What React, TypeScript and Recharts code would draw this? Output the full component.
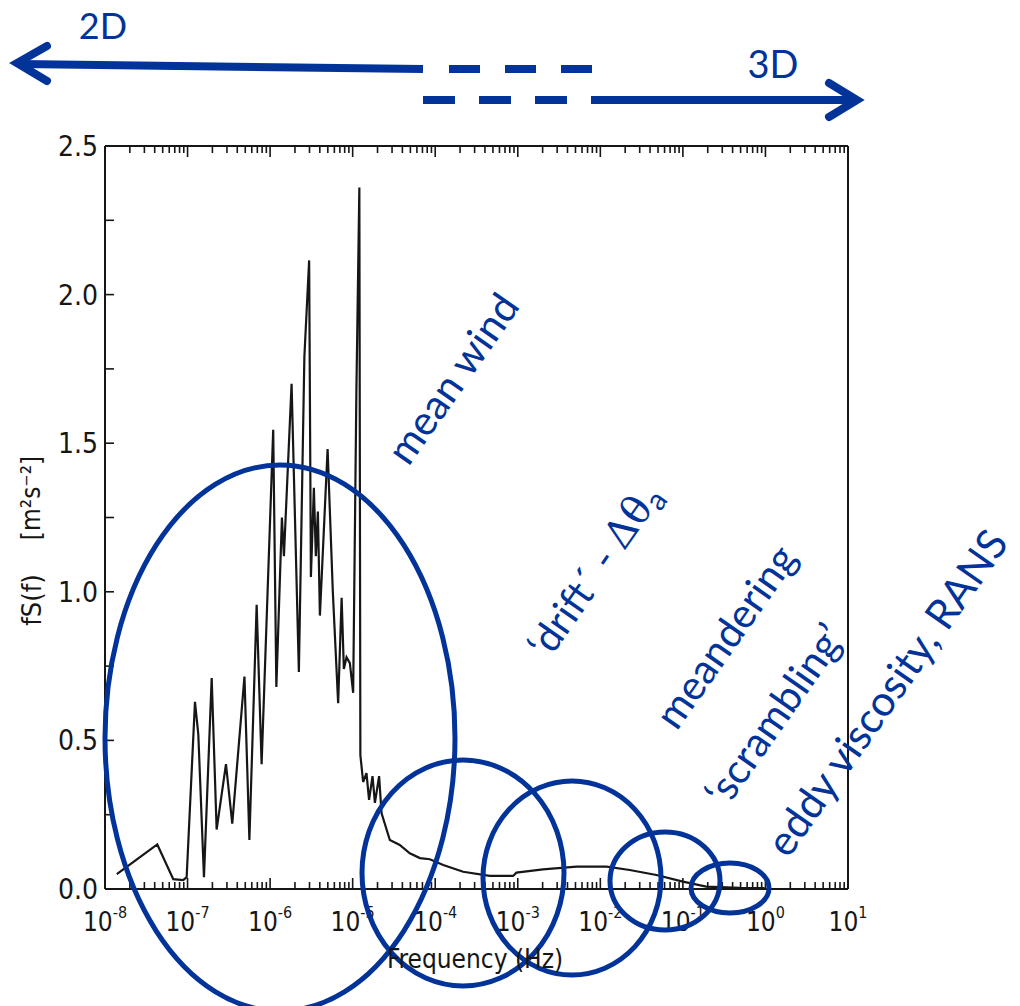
import React from "react";
import { LineChart, Line, XAxis, YAxis } from "recharts";

// frequency [Hz] and fS(f) [m2 s-2]
const freq = [
  1.39e-8, 4.3e-8, 6.71e-8, 8.87e-8, 9.75e-8, 1.23e-7, 1.35e-7, 1.58e-7, 1.96e-7, 2.25e-7,
  2.92e-7, 3.48e-7, 4.89e-7, 5.61e-7, 6.87e-7, 7.89e-7, 1.09e-6, 1.19e-6, 1.39e-6, 1.47e-6,
  1.82e-6, 2.23e-6, 2.6e-6, 2.97e-6, 3.12e-6, 3.39e-6, 3.58e-6, 3.79e-6, 4.01e-6, 4.97e-6,
  5.75e-6, 6.67e-6, 7.35e-6, 7.82e-6, 8.43e-6, 9.25e-6, 1.014e-5, 1.11e-5, 1.205e-5, 1.24e-5,
  1.34e-5, 1.47e-5, 1.58e-5, 1.74e-5, 1.86e-5, 2.09e-5, 2.24e-5, 2.82e-5, 3.72e-5, 4.92e-5,
  6.52e-5, 8.61e-5, 1.25e-4, 2.18e-4, 4.58e-4, 8.77e-4, 9.64e-4, 2.02e-3, 5.14e-3, 1.19e-2,
  2.27e-2, 4.78e-2, 0.1, 0.192, 0.488, 0.977,
];
const fs = [
  0.05, 0.15, 0.033, 0.03, 0.04, 0.63, 0.52, 0.04, 0.71, 0.2,
  0.42, 0.22, 0.715, 0.165, 0.956, 0.42, 1.545, 0.68, 1.25, 1.12,
  1.7, 0.73, 1.79, 2.115, 1.05, 1.35, 1.12, 1.27, 0.92, 1.48,
  1.0, 0.625, 0.98, 0.74, 0.78, 0.76, 0.66, 1.68, 2.36, 0.45,
  0.36, 0.39, 0.3, 0.38, 0.29, 0.38, 0.255, 0.165, 0.148, 0.12,
  0.104, 0.1, 0.081, 0.058, 0.044, 0.044, 0.055, 0.066, 0.075, 0.075,
  0.064, 0.047, 0.025, 0.008, 0.004, 0.003,
];

const decades = [-8, -7, -6, -5, -4, -3, -2, -1, 0];
const minorSteps = [1, 2, 3, 4, 5, 6, 7, 8, 9];
const yTicks = [0, 0.25, 0.5, 0.75, 1, 1.25, 1.5, 1.75, 2, 2.25, 2.5];

const xTicks = [...decades.flatMap((d) => minorSteps.map((k) => k * Math.pow(10, d))), 10];
const data = freq.map((f, i) => ({ f, s: fs[i] }));

const BLUE = "#023399";
const INK = "#161616";
const SCAN_FONT = "'DejaVu Sans Condensed', 'DejaVu Sans', sans-serif";
const NOTE_FONT = "Lato, 'Open Sans', sans-serif";

const isDecade = (v: number) => Math.abs(Math.log10(v) - Math.round(Math.log10(v))) < 1e-6;

const BottomTick = (props: any) => {
  const { x, y, payload } = props;
  const v = payload.value;
  const major = isDecade(v);
  const e = Math.round(Math.log10(v));
  return (
    <g>
      <line x1={x} x2={x} y1={y} y2={y - (major ? 11 : 7)} stroke={INK} strokeWidth={1.6} />
      {major && (
        <text x={x} y={y + 42} textAnchor="middle" fill={INK} fontFamily={SCAN_FONT} fontStretch="condensed" fontSize={26}>
          10
          <tspan dy={-13} fontSize={16}>{e}</tspan>
        </text>
      )}
    </g>
  );
};

const TopTick = (props: any) => {
  const { x, y, payload } = props;
  const major = isDecade(payload.value);
  return <line x1={x} x2={x} y1={y} y2={y + (major ? 11 : 7)} stroke={INK} strokeWidth={1.6} />;
};

const LeftTick = (props: any) => {
  const { x, y, payload } = props;
  const v = payload.value;
  const labelled = Math.abs(v * 2 - Math.round(v * 2)) < 1e-6;
  return (
    <g>
      <line x1={x} x2={x + 9} y1={y} y2={y} stroke={INK} strokeWidth={1.6} />
      {labelled && (
        <text x={x - 7} y={y} dy="0.36em" textAnchor="end" fill={INK} fontFamily={SCAN_FONT} fontStretch="condensed" fontSize={28}>
          {v.toFixed(1)}
        </text>
      )}
    </g>
  );
};

const RightTick = (props: any) => {
  const { x, y } = props;
  return <line x1={x} x2={x - 9} y1={y} y2={y} stroke={INK} strokeWidth={1.6} />;
};

function Notes() {
  const rot = -55;
  const note = (cx: number, cy: number, body: React.ReactNode, size = 40) => (
    <text
      x={cx}
      y={cy}
      transform={`rotate(${rot} ${cx} ${cy})`}
      textAnchor="middle"
      dominantBaseline="central"
      fill={BLUE}
      fontFamily={NOTE_FONT}
      fontSize={size}
    >
      {body}
    </text>
  );
  return (
    <svg width={1020} height={1006} style={{ position: "absolute", left: 0, top: 0, pointerEvents: "none" }}>
      {/* 2D / 3D arrows */}
      <text x={103} y={39} textAnchor="middle" fill={BLUE} fontFamily={NOTE_FONT} fontSize={36}>2D</text>
      <text x={773} y={78} textAnchor="middle" fill={BLUE} fontFamily={NOTE_FONT} fontSize={38}>3D</text>
      <line x1={20} y1={64} x2={423} y2={69} stroke={BLUE} strokeWidth={8} />
      <polyline points="47,46 17,63 47,81" fill="none" stroke={BLUE} strokeWidth={8} strokeLinecap="round" strokeLinejoin="miter" />
      <line x1={449} y1={69} x2={592} y2={69} stroke={BLUE} strokeWidth={8} strokeDasharray="31 25" />
      <line x1={423} y1={100} x2={567} y2={100} stroke={BLUE} strokeWidth={8} strokeDasharray="32 24" />
      <line x1={591} y1={100} x2={854} y2={100} stroke={BLUE} strokeWidth={8} />
      <polyline points="829,83 857,100 829,117" fill="none" stroke={BLUE} strokeWidth={8} strokeLinecap="round" />

      {/* scale regions */}
      <g fill="none" stroke={BLUE} strokeWidth={5}>
        <ellipse cx={280} cy={738} rx={175} ry={273} />
        <ellipse cx={463} cy={873} rx={101} ry={113} />
        <ellipse cx={572} cy={878} rx={89} ry={97} />
        <ellipse cx={665} cy={881} rx={55} ry={49} />
        <ellipse cx={730} cy={888} rx={39} ry={25} />
      </g>

      {note(452, 378, "mean wind", 41)}
      {note(594, 570, (
        <>
          ‘drift´ - <tspan fontFamily="'DejaVu Serif', 'Liberation Serif', serif">Δθ</tspan>
          <tspan dy={9} fontSize={30}>a</tspan>
        </>
      ))}
      {note(725, 636, "meandering", 41)}
      {note(774, 714, "‘scrambling’", 41)}
      {note(886, 692, "eddy viscosity, RANS", 42)}

      {/* axis titles */}
      <text x={475} y={968} textAnchor="middle" fill={INK} fontFamily={SCAN_FONT} fontStretch="condensed" fontSize={26}>
        Frequency  (Hz)
      </text>
      <text x={31} y={600} transform="rotate(-90 31 600)" textAnchor="middle" dominantBaseline="central" fill={INK} fontFamily={SCAN_FONT} fontStretch="condensed" fontSize={27}>
        fS(f)
      </text>
      <text x={31} y={498} transform="rotate(-90 31 498)" textAnchor="middle" dominantBaseline="central" fill={INK} fontFamily={SCAN_FONT} fontStretch="condensed" fontSize={26}>
        [m²s⁻²]
      </text>
    </svg>
  );
}

export default function App() {
  return (
    <div style={{ position: "absolute", left: 0, top: 0, width: 1020, height: 1006, background: "#fff" }}>
      <LineChart width={1020} height={1006} data={data} margin={{ top: 136, right: 162, bottom: 57, left: 0 }}>
        <XAxis
          xAxisId="b"
          dataKey="f"
          type="number"
          scale="log"
          domain={[1e-8, 10]}
          ticks={xTicks}
          interval={0}
          height={60}
          tickSize={0}
          tickMargin={0}
          tickLine={false}
          axisLine={{ stroke: INK, strokeWidth: 2 }}
          tick={<BottomTick />}
          allowDataOverflow
        />
        <XAxis
          xAxisId="t"
          dataKey="f"
          orientation="top"
          type="number"
          scale="log"
          domain={[1e-8, 10]}
          ticks={xTicks}
          interval={0}
          height={10}
          tickSize={0}
          tickMargin={0}
          tickLine={false}
          axisLine={{ stroke: INK, strokeWidth: 2 }}
          tick={<TopTick />}
          allowDataOverflow
        />
        <YAxis
          yAxisId="l"
          type="number"
          domain={[0, 2.5]}
          ticks={yTicks}
          interval={0}
          width={105}
          tickSize={0}
          tickMargin={0}
          tickLine={false}
          axisLine={{ stroke: INK, strokeWidth: 2 }}
          tick={<LeftTick />}
        />
        <YAxis
          yAxisId="r"
          orientation="right"
          type="number"
          domain={[0, 2.5]}
          ticks={yTicks}
          interval={0}
          width={10}
          tickSize={0}
          tickMargin={0}
          tickLine={false}
          axisLine={{ stroke: INK, strokeWidth: 2 }}
          tick={<RightTick />}
        />
        <Line
          xAxisId="b"
          yAxisId="l"
          type="linear"
          dataKey="s"
          stroke={INK}
          strokeWidth={2.2}
          dot={false}
          isAnimationActive={false}
        />
      </LineChart>
      <Notes />
    </div>
  );
}
